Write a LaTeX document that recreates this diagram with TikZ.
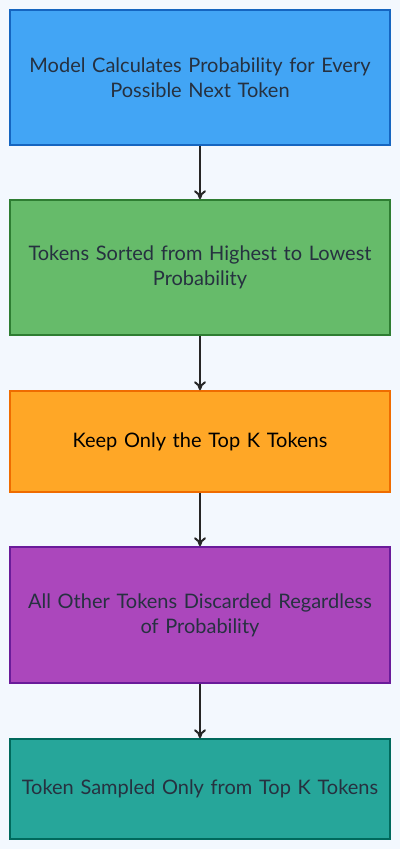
\documentclass[tikz,border=0pt]{standalone}
\usepackage{fontspec}
\setmainfont{Lato}
\usetikzlibrary{arrows.meta}
\definecolor{bg}{HTML}{F3F8FE}
\definecolor{txt}{HTML}{263140}
\definecolor{f1}{HTML}{42A5F5}\definecolor{d1}{HTML}{1565C0}
\definecolor{f2}{HTML}{66BB6A}\definecolor{d2}{HTML}{2E7D32}
\definecolor{f3}{HTML}{FFA726}\definecolor{d3}{HTML}{EF6C00}
\definecolor{f4}{HTML}{AB47BC}\definecolor{d4}{HTML}{6A1B9A}
\definecolor{f5}{HTML}{26A69A}\definecolor{d5}{HTML}{00695C}
\tikzset{
  stepbox/.style={draw, line width=1.5pt, minimum width=380pt, text width=372pt, align=center,
    inner sep=0pt, font=\fontsize{20}{25}\selectfont, text=txt},
  flow/.style={draw=black!85, line width=2.8pt, -{To[length=9pt,width=12pt,line width=2pt]}}
}
\begin{document}
\begin{tikzpicture}[x=1pt,y=1pt]
\fill[bg] (0,0) rectangle (400,-849);
\useasboundingbox (0,0) rectangle (400,-849);
\node[stepbox, fill=f1, draw=d1, minimum height=135pt] (a) at (200,-77.5) {Model Calculates Probability for Every\\Possible Next Token};
\node[stepbox, fill=f2, draw=d2, minimum height=135pt] (b) at (200,-267.5) {Tokens Sorted from Highest to Lowest\\Probability};
\node[stepbox, fill=f3, draw=d3, minimum height=101pt, text=black] (c) at (200,-441.5) {Keep Only the Top K Tokens};
\node[stepbox, fill=f4, draw=d4, minimum height=136pt] (d) at (200,-615) {All Other Tokens Discarded Regardless\\of Probability};
\node[stepbox, fill=f5, draw=d5, minimum height=100pt] (e) at (200,-789) {Token Sampled Only from Top K Tokens};
\draw[flow] (a) -- (b);
\draw[flow] (b) -- (c);
\draw[flow] (c) -- (d);
\draw[flow] (d) -- (e);
\end{tikzpicture}
\end{document}
